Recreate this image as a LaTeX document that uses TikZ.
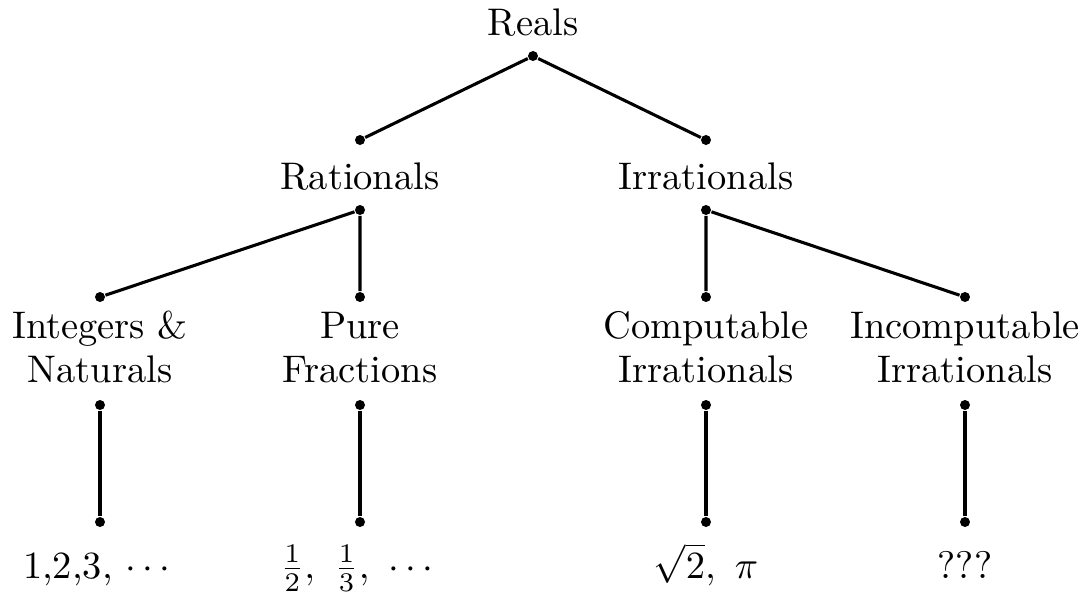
\documentclass[tikz,border=0pt]{standalone}
\usepackage{amsmath}
\usepackage{tikz}

\begin{document}
\begin{tikzpicture}[x=0.26pt,y=-0.26pt,font=\normalsize]
    \tikzset{
      dot/.style={circle, fill=black, minimum size=2.6pt, inner sep=0pt},
      txt/.style={anchor=base, inner sep=0pt, align=center},
      link/.style={line width=0.8pt}
    }
    \useasboundingbox (0,0) rectangle (1089,596);
    \node[txt] (reals) at (533,35) {Reals};
    \node[dot] (d0) at (533,56) {};
    \node[dot] (rat) at (360,140) {};
    \node[dot] (irr) at (706,140) {};
    \node[txt] (ratT) at (360,189) {Rationals};
    \node[txt] (irrT) at (706,189) {Irrationals};
    \node[dot] (ratB) at (360,210) {};
    \node[dot] (irrB) at (706,210) {};
    \draw[link] (rat) -- (d0) -- (irr);
    % four classes below
    \foreach \n/\x/\a/\b/\c in {1/100/Integers \&/Naturals/{1,2,3, $\cdots$},
                               2/360/Pure/Fractions/{$\frac{1}{2},\ \frac{1}{3},\ \cdots$},
                               3/706/Computable/Irrationals/{$\sqrt{2},\ \pi$},
                               4/965/Incomputable/Irrationals/{???}} {
      \node[dot] (t\n) at (\x,297) {};
      \node[txt] (l\n) at (\x,338) {\a};
      \node[txt] (m\n) at (\x,382) {\b};
      \node[dot] (u\n) at (\x,405) {};
      \node[dot] (v\n) at (\x,522) {};
      \node[txt] (e\n) at (\x,578) {\c};
      \draw[link] (u\n) -- (v\n);
    }
    \draw[link] (t1) -- (ratB) -- (t2);
    \draw[link] (t3) -- (irrB) -- (t4);
  \end{tikzpicture}
\end{document}
